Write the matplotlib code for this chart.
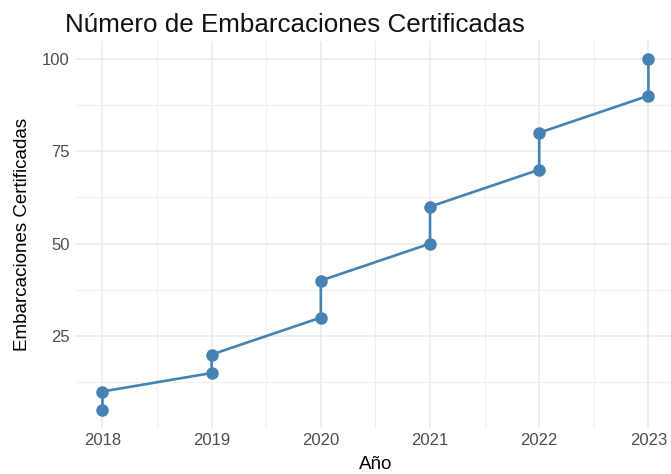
import numpy as np
import matplotlib.pyplot as plt

# datos
anios = [2018, 2018, 2019, 2019, 2020, 2020, 2021, 2021, 2022, 2022, 2023, 2023]
embarcaciones = [5, 10, 15, 20, 30, 40, 50, 60, 70, 80, 90, 100]
ticks_x = [2018, 2019, 2020, 2021, 2022, 2023]
ticks_y = [25, 50, 75, 100]

plt.rcParams['font.family'] = ['Liberation Sans', 'DejaVu Sans']

fig = plt.figure(figsize=(6.71, 4.74), dpi=100)
ax = fig.add_axes([0.112, 0.098, 0.895, 0.815])

color = '#4682B4'
ax.plot(anios, embarcaciones, '-', color=color, linewidth=1.9, zorder=3)
ax.plot(anios, embarcaciones, 'o', color=color, markersize=8, zorder=4)

ax.set_xlim(2017.75, 2023.25)
ax.set_ylim(0.25, 104.75)
ax.set_xticks(ticks_x)
ax.set_yticks(ticks_y)
ax.set_xticks(np.arange(2018.5, 2023, 1), minor=True)
ax.set_yticks([12.5, 37.5, 62.5, 87.5], minor=True)

# rejilla estilo theme_minimal
ax.grid(True, which='major', color='#ebebeb', linewidth=1.2)
ax.grid(True, which='minor', color='#f0f0f0', linewidth=0.9)
ax.set_axisbelow(True)
for s in ax.spines.values():
    s.set_visible(False)
ax.tick_params(which='both', length=0)
ax.tick_params(axis='both', labelsize=12, colors='#4d4d4d', pad=4)

ax.set_xlabel('Año', fontsize=13.5, labelpad=6)
ax.set_ylabel('Embarcaciones Certificadas', fontsize=13.5, labelpad=8)
fig.text(0.097, 0.933, 'Número de Embarcaciones Certificadas', fontsize=18.7, color='#111111')

fig.savefig('out.png', dpi=100)
